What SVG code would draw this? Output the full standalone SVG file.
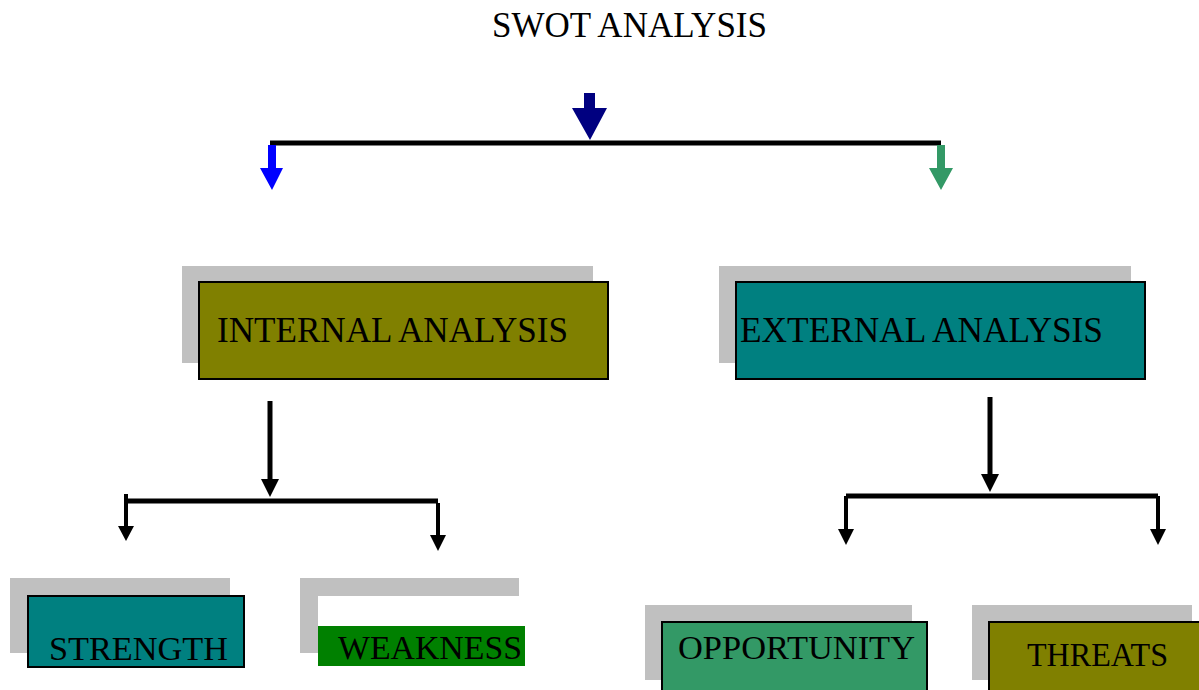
<svg xmlns="http://www.w3.org/2000/svg" width="1199" height="690" viewBox="0 0 1199 690">
<style>
text{font-family:"Liberation Serif","Times New Roman",serif;font-size:34px;fill:#000}
.big{font-size:35px}
.sh{fill:#C0C0C0}
.box{stroke:#000;stroke-width:2}
.ln{stroke:#000;stroke-width:5;fill:none}
.sh2{stroke:#000;stroke-width:4;fill:none}
</style>
<rect width="1199" height="690" fill="#fff"/>
<text class="big" x="492" y="37" textLength="275" lengthAdjust="spacingAndGlyphs">SWOT ANALYSIS</text>
<g id="connectors">
<line class="ln" x1="270" y1="143" x2="941" y2="143"/>
<polygon fill="#000080" points="584,93 595,93 595,108 607,108 590,140 572,108 584,108"/>
<polygon fill="#0000FF" points="268,145 276,145 276,168 283,168 272,190 260,168 268,168"/>
<polygon fill="#339966" points="937,145 945,145 945,168 953,168 941,190 929,168 937,168"/>
<line class="ln" x1="270" y1="401" x2="270" y2="482"/>
<polygon fill="#000" points="261,479 279,479 270,497"/>
<line class="ln" x1="125" y1="501" x2="438" y2="501"/>
<line class="sh2" x1="126" y1="494" x2="126" y2="528"/>
<polygon fill="#000" points="118,526 134,526 126,541"/>
<line class="sh2" x1="438" y1="503" x2="438" y2="537"/>
<polygon fill="#000" points="430,535 446,535 438,551"/>
<line class="ln" x1="990" y1="397" x2="990" y2="476"/>
<polygon fill="#000" points="981,474 999,474 990,492"/>
<line class="ln" x1="846" y1="496" x2="1158" y2="496"/>
<line class="sh2" x1="846" y1="496" x2="846" y2="531"/>
<polygon fill="#000" points="838,529 854,529 846,545"/>
<line class="sh2" x1="1158" y1="496" x2="1158" y2="531"/>
<polygon fill="#000" points="1150,529 1166,529 1158,545"/>
</g>
<g id="internal">
<rect class="sh" x="182" y="266" width="411" height="97"/>
<rect class="box" x="199" y="282" width="409" height="97" fill="#808000"/>
<text class="big" x="217" y="342" textLength="351" lengthAdjust="spacingAndGlyphs">INTERNAL ANALYSIS</text>
</g>
<g id="external">
<rect class="sh" x="719" y="266" width="412" height="97"/>
<rect class="box" x="736" y="282" width="409" height="97" fill="#008080"/>
<text class="big" x="740" y="342" textLength="363" lengthAdjust="spacingAndGlyphs">EXTERNAL ANALYSIS</text>
</g>
<g id="strength">
<rect class="sh" x="10" y="578" width="220" height="75"/>
<rect class="box" x="28" y="596" width="216" height="71" fill="#008080"/>
<text x="49" y="660" textLength="179" lengthAdjust="spacingAndGlyphs">STRENGTH</text>
</g>
<g id="weakness">
<rect class="sh" x="300" y="578" width="219" height="75"/>
<rect x="318" y="596" width="210" height="75" fill="#fff"/>
<rect x="318" y="626" width="207" height="40" fill="#008000"/>
<text x="338" y="659" textLength="184" lengthAdjust="spacingAndGlyphs">WEAKNESS</text>
</g>
<g id="opportunity">
<rect class="sh" x="645" y="605" width="267" height="75"/>
<rect class="box" x="662" y="622" width="265" height="80" fill="#339966"/>
<text x="678" y="659" textLength="237" lengthAdjust="spacingAndGlyphs">OPPORTUNITY</text>
</g>
<g id="threats">
<rect class="sh" x="972" y="605" width="220" height="75"/>
<rect class="box" x="989" y="622" width="220" height="80" fill="#808000"/>
<text x="1027" y="666" style="font-size:33px" textLength="141" lengthAdjust="spacingAndGlyphs">THREATS</text>
</g>
</svg>
